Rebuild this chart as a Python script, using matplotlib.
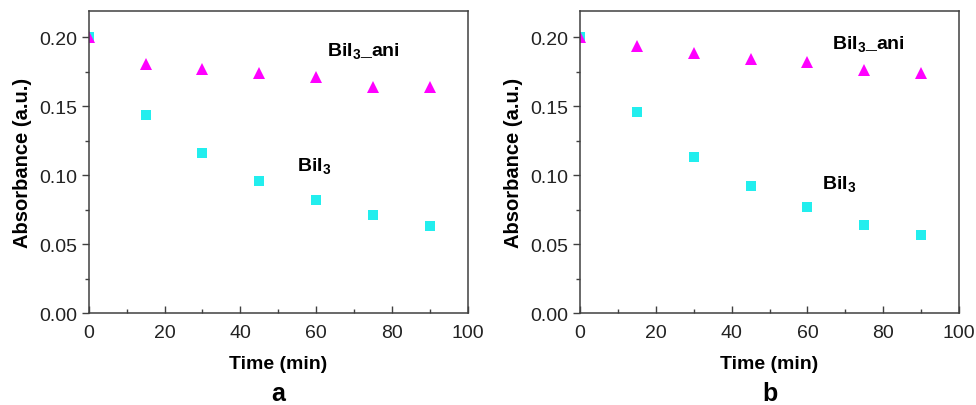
import numpy as np
import matplotlib.pyplot as plt
from matplotlib.ticker import MultipleLocator

plt.rcParams['font.family'] = ['Liberation Sans', 'DejaVu Sans']
plt.rcParams['mathtext.fontset'] = 'custom'
plt.rcParams['mathtext.rm'] = 'Liberation Sans'
plt.rcParams['mathtext.bf'] = 'Liberation Sans:bold'

time = [0, 15, 30, 45, 60, 75, 90]

# panel a
a_ani = [0.200, 0.181, 0.177, 0.174, 0.171, 0.164, 0.164]
a_bii3 = [0.200, 0.144, 0.116, 0.096, 0.082, 0.071, 0.063]
# panel b
b_ani = [0.200, 0.194, 0.189, 0.184, 0.182, 0.176, 0.174]
b_bii3 = [0.200, 0.146, 0.113, 0.092, 0.077, 0.064, 0.057]

panels = ['a', 'b']
ani_vals = [a_ani, b_ani]
bii3_vals = [a_bii3, b_bii3]
ani_label_pos = [(63, 0.1905), (66.5, 0.1955)]
bii3_label_pos = [(55, 0.107), (63.8, 0.094)]

fig = plt.figure(figsize=(9.76, 4.06), dpi=100)
lefts = [0.0909, 0.5943]
edge = '#404040'

for i in range(2):
    ax = fig.add_axes([lefts[i], 0.2259, 0.3883, 0.7453])
    ax.plot(time, bii3_vals[i], 's', color='#22EEEE', markersize=6.5, markeredgewidth=0)
    ax.plot(time, ani_vals[i], '^', color='#FF00FF', markersize=9, markeredgewidth=0)
    ax.set_xlim(0, 100)
    ax.set_ylim(0, 0.2193)
    ax.xaxis.set_major_locator(MultipleLocator(20))
    ax.xaxis.set_minor_locator(MultipleLocator(10))
    ax.yaxis.set_major_locator(MultipleLocator(0.05))
    ax.yaxis.set_minor_locator(MultipleLocator(0.025))
    ax.yaxis.set_major_formatter(plt.FormatStrFormatter('%.2f'))
    ax.tick_params(axis='x', which='both', direction='in', colors=edge, labelcolor='#222222', labelsize=14, pad=8)
    ax.tick_params(axis='y', which='both', direction='out', colors=edge, labelcolor='#222222', labelsize=14)
    ax.tick_params(which='major', length=5, width=1)
    ax.tick_params(which='minor', length=3, width=1)
    for s in ax.spines.values():
        s.set_color(edge)
        s.set_linewidth(1.1)
    ax.set_xlabel('Time (min)', fontsize=14, fontweight='bold', labelpad=10)
    ax.set_ylabel('Absorbance (a.u.)', fontsize=14.5, fontweight='bold', labelpad=5)
    ax.text(*ani_label_pos[i], r'BiI$_\mathbf{3}$_ani', fontsize=14, fontweight='bold', va='center')
    ax.text(*bii3_label_pos[i], r'BiI$_\mathbf{3}$', fontsize=14, fontweight='bold', va='center')
    ax.text(0.5, -0.262, panels[i], transform=ax.transAxes, ha='center', va='center',
            fontsize=18, fontweight='bold')

fig.savefig('out.png', dpi=100)
